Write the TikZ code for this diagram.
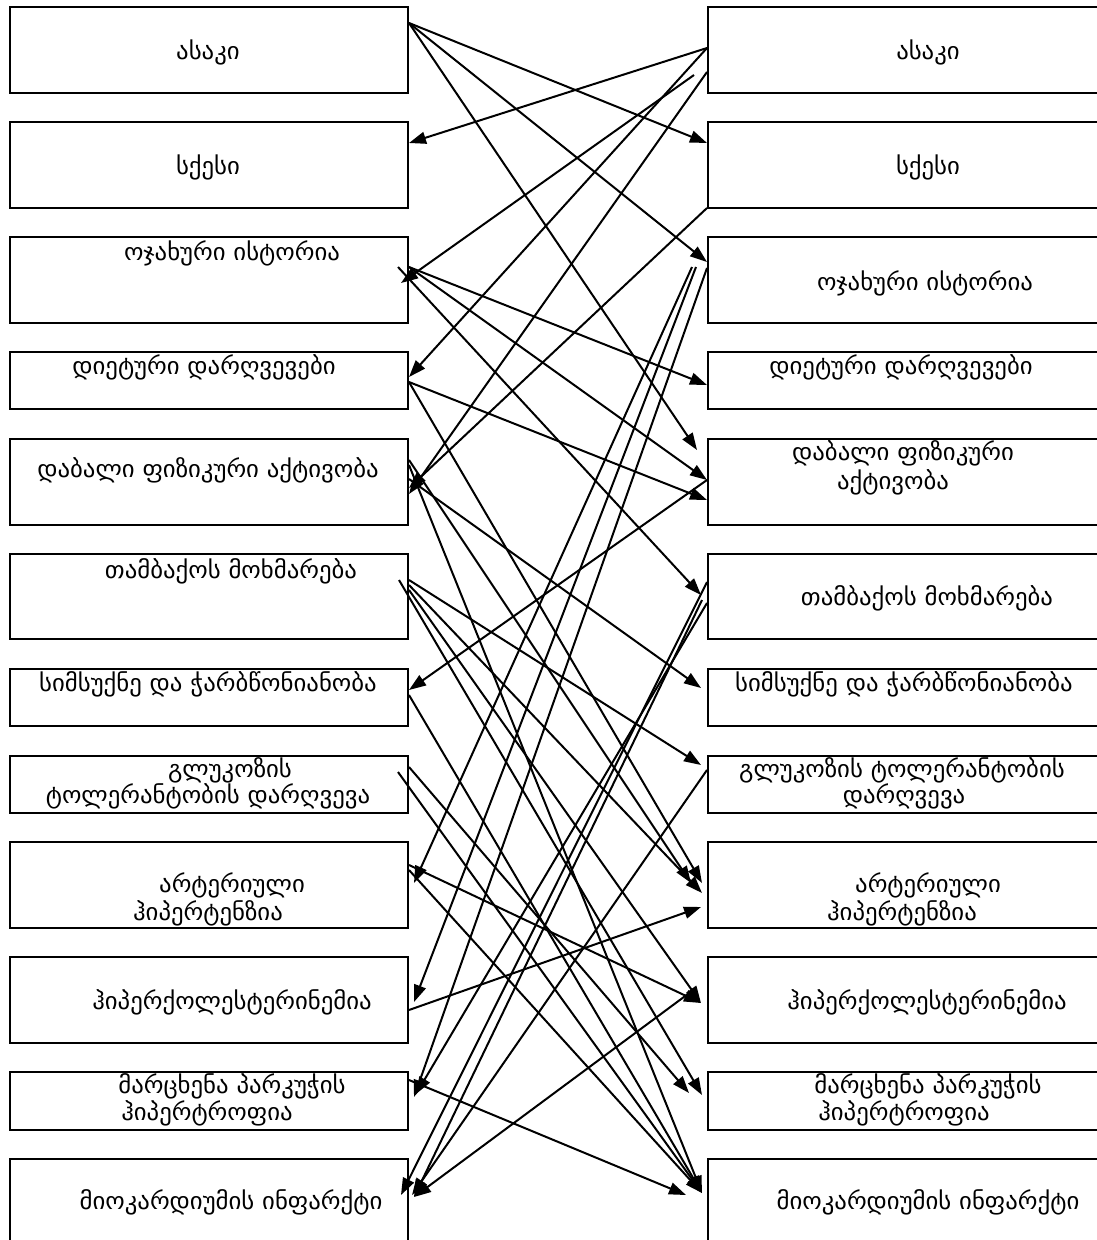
\documentclass[tikz,border=0pt]{standalone}
\usepackage{fontspec}
\newfontfamily\geo[FakeStretch=1.04]{DejaVu Sans}
\usetikzlibrary{arrows.meta,calc}

\begin{document}
\begin{tikzpicture}[x=1pt,y=-1pt,
  box/.style={draw,line width=2pt,minimum width=398pt,inner sep=0pt},
  lbl/.style={font=\geo\fontsize{23.8}{28}\selectfont,inner sep=0pt},
  arr/.style={line width=2pt,-{Triangle[length=17pt,width=12pt]}}]
\useasboundingbox (0,0) rectangle (1097,1240);
\clip (0,0) rectangle (1097,1240);
% ----- left column -----
\node[box,minimum height=86pt] (l1) at (209,50) {};
\node[box,minimum height=86pt] (l2) at (209,165) {};
\node[box,minimum height=86pt] (l3) at (209,280) {};
\node[box,minimum height=57pt] (l4) at (209,380.5) {};
\node[box,minimum height=86pt] (l5) at (209,482) {};
\node[box,minimum height=85pt] (l6) at (209,596.5) {};
\node[box,minimum height=57pt] (l7) at (209,697.5) {};
\node[box,minimum height=57pt] (l8) at (209,784.5) {};
\node[box,minimum height=86pt] (l9) at (209,885) {};
\node[box,minimum height=86pt] (l10) at (209,1000) {};
\node[box,minimum height=58pt] (l11) at (209,1101) {};
\node[box,minimum height=86pt] (l12) at (209,1202) {};
\node[lbl] (tl1) at (208,52) {ასაკი};
\node[lbl] (tl2) at (208,167) {სქესი};
\node[lbl] (tl3) at (232,253) {ოჯახური ისტორია};
\node[lbl] (tl4) at (204,367) {დიეტური დარღვევები};
\node[lbl] (tl5) at (208,470) {დაბალი ფიზიკური აქტივობა};
\node[lbl] (tl6) at (231,571) {თამბაქოს მოხმარება};
\node[lbl] (tl7) at (208,684) {სიმსუქნე და ჭარბწონიანობა};
\node[lbl] (tl8a) at (230,770) {გლუკოზის};
\node[lbl] (tl8b) at (208,796) {ტოლერანტობის დარღვევა};
\node[lbl] (tl9a) at (232,885) {არტერიული};
\node[lbl] (tl9b) at (208,913) {ჰიპერტენზია};
\node[lbl] (tl10) at (232,1002) {ჰიპერქოლესტერინემია};
\node[lbl] (tl11a) at (232,1086) {მარცხენა პარკუჭის};
\node[lbl] (tl11b) at (207,1113) {ჰიპერტროფია};
\node[lbl] (tl12) at (231,1202) {მიოკარდიუმის ინფარქტი};
% ----- right column -----
\node[box,minimum height=86pt] (r1) at (907,50) {};
\node[box,minimum height=86pt] (r2) at (907,165) {};
\node[box,minimum height=86pt] (r3) at (907,280) {};
\node[box,minimum height=57pt] (r4) at (907,380.5) {};
\node[box,minimum height=86pt] (r5) at (907,482) {};
\node[box,minimum height=85pt] (r6) at (907,596.5) {};
\node[box,minimum height=57pt] (r7) at (907,697.5) {};
\node[box,minimum height=57pt] (r8) at (907,784.5) {};
\node[box,minimum height=86pt] (r9) at (907,885) {};
\node[box,minimum height=86pt] (r10) at (907,1000) {};
\node[box,minimum height=58pt] (r11) at (907,1101) {};
\node[box,minimum height=86pt] (r12) at (907,1202) {};
\node[lbl] (tr1) at (928,52) {ასაკი};
\node[lbl] (tr2) at (928,167) {სქესი};
\node[lbl] (tr3) at (925,283) {ოჯახური ისტორია};
\node[lbl] (tr4) at (901,367) {დიეტური დარღვევები};
\node[lbl] (tr5a) at (903,453) {დაბალი ფიზიკური};
\node[lbl] (tr5b) at (893,482) {აქტივობა};
\node[lbl] (tr6) at (927,598) {თამბაქოს მოხმარება};
\node[lbl] (tr7) at (904,684) {სიმსუქნე და ჭარბწონიანობა};
\node[lbl] (tr8a) at (902,770) {გლუკოზის ტოლერანტობის};
\node[lbl] (tr8b) at (904,796) {დარღვევა};
\node[lbl] (tr9a) at (928,885) {არტერიული};
\node[lbl] (tr9b) at (902,913) {ჰიპერტენზია};
\node[lbl] (tr10) at (927,1002) {ჰიპერქოლესტერინემია};
\node[lbl] (tr11a) at (928,1086) {მარცხენა პარკუჭის};
\node[lbl] (tr11b) at (904,1113) {ჰიპერტროფია};
\node[lbl] (tr12) at (928,1202) {მიოკარდიუმის ინფარქტი};
% ----- arrows, upper part -----
\draw[arr] (l1.east |- 0,23) -- (r2.west |- 0,143);
\draw[arr] (l1.east |- 0,23) -- (r3.west |- 0,262);
\draw[arr] (l1.east |- 0,23) -- ($(r5.west |- 0,450)+(-10,0)$);
\draw[arr] (r1.west |- 0,48) -- (l2.east |- 0,143);
\draw[arr] ($(r1.west |- 0,75)+(-13,0)$) -- ($(l3.east |- 0,283)+(-8,0)$);
\draw[arr] (r1.west |- 0,48) -- (l4.east |- 0,377);
\draw[arr] (r1.west |- 0,72) -- (l5.east |- 0,494);
\draw[arr] (r2.west |- 0,208) -- (l5.east |- 0,488);
\draw[arr] (l3.east |- 0,267) -- (r4.west |- 0,385);
\draw[arr] (l3.east |- 0,267) -- (r5.west |- 0,480);
\draw[arr] ($(l3.east |- 0,267)+(-11,0)$) -- ($(r6.west |- 0,595)+(-6,0)$);
\draw[arr] (l4.east |- 0,382) -- (r5.west |- 0,500);
\draw[arr] (l4.east |- 0,382) -- ($(r9.west |- 0,883)+(-5,0)$);
\draw[arr] (r5.west |- 0,480) -- (l7.east |- 0,690);
\draw[arr] (l5.east |- 0,479) -- ($(r7.west |- 0,688)+(-6,0)$);
\draw[arr] (l5.east |- 0,460) -- ($(r9.west |- 0,883)+(-16,0)$);
\draw[arr] (l5.east |- 0,465) -- ($(r12.west |- 0,1193)+(-5,0)$);
% ----- arrows, lower part -----
\draw[arr] (l6.east |- 0,580) -- ($(r8.west |- 0,765)+(-6,0)$);
\draw[arr] (l6.east |- 0,585) -- ($(r9.west |- 0,893)+(-5,0)$);
\draw[arr] (l6.east |- 0,590) -- ($(r10.west |- 0,1003)+(-6,0)$);
\draw[arr] ($(l6.east |- 0,580)+(-10,0)$) -- ($(r11.west |- 0,1095)+(-5,0)$);
\draw[arr] (l7.east |- 0,695) -- ($(r12.west |- 0,1193)+(-5,0)$);
\draw[arr] (l8.east |- 0,767) -- ($(r11.west |- 0,1093)+(-18,0)$);
\draw[arr] ($(l8.east |- 0,772)+(-11,0)$) -- ($(r12.west |- 0,1193)+(-5,0)$);
\draw[arr] (l9.east |- 0,865) -- ($(r10.west |- 0,1003)+(-6,0)$);
\draw[arr] (l9.east |- 0,870) -- ($(r12.west |- 0,1193)+(-5,0)$);
\draw[arr] (l10.east |- 0,1010) -- ($(r9.west |- 0,907)+(-6,0)$);
\draw[arr] (l11.east |- 0,1080) -- ($(r12.west |- 0,1195)+(-21,0)$);
\draw[arr] ($(r3.west |- 0,267)+(-15,0)$) -- ($(l9.east |- 0,883)+(5,0)$);
\draw[arr] ($(r3.west |- 0,267)+(-11,0)$) -- ($(l10.east |- 0,1002)+(5,0)$);
\draw[arr] (r3.west |- 0,268) -- ($(l11.east |- 0,1097)+(5,0)$);
\draw[arr] (r6.west |- 0,603) -- ($(l11.east |- 0,1094)+(7,0)$);
\draw[arr] (r6.west |- 0,582) -- ($(l12.east |- 0,1195)+(-8,0)$);
\draw[arr] ($(r6.west |- 0,600)+(-5,0)$) -- ($(l12.east |- 0,1197)+(5,0)$);
\draw[arr] (r8.west |- 0,770) -- ($(l12.east |- 0,1195)+(3,0)$);
\draw[arr] ($(r10.west |- 0,988)+(-11,0)$) -- ($(l12.east |- 0,1197)+(5,0)$);
\end{tikzpicture}
\end{document}
